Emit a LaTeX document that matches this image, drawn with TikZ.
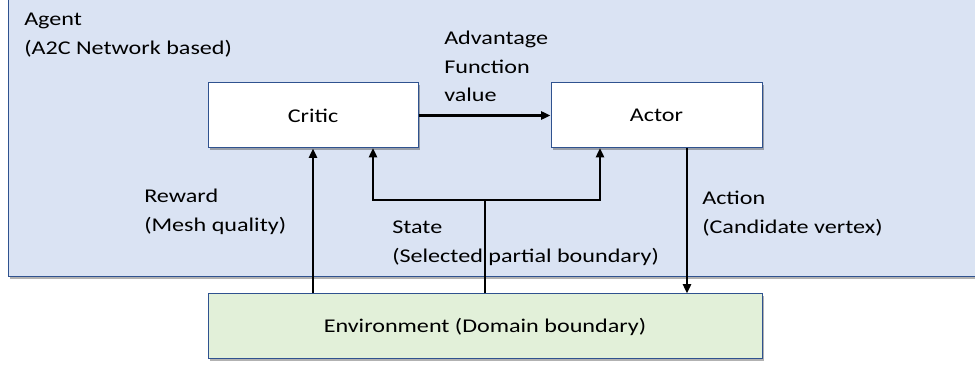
\documentclass[tikz,border=0pt]{standalone}
\usepackage{fontspec}
\setmainfont{Carlito}[FakeStretch=1.24]
\usetikzlibrary{arrows.meta,shadows}
\definecolor{agentfill}{HTML}{DAE3F3}
\definecolor{envfill}{HTML}{E2F0D9}
\definecolor{edgeblue}{HTML}{2F528F}
\begin{document}
\begin{tikzpicture}[x=0.75pt,y=-0.75pt,
  box/.style={draw=edgeblue, line width=0.75pt, rectangle, inner sep=0pt,
    drop shadow={shadow xshift=1.5pt, shadow yshift=-1.5pt, opacity=0.3, fill=black}},
  txt/.style={font=\fontsize{14.6}{21.4}\selectfont},
  lbl/.style={txt, anchor=base west, inner sep=0pt},
  arr/.style={line width=1.8pt, -{Triangle[length=7pt,width=6pt]}},
  link/.style={line width=1.8pt}
]
\useasboundingbox (0,0) rectangle (975,366);
% agent container
\node[box, fill=agentfill, minimum width=732.75pt, minimum height=211.5pt] (agent) at (496.5,136) {};
% boxes
\node[box, fill=white, txt, minimum width=157.5pt, minimum height=48.75pt] (critic) at (313,115.5) {Critic};
\node[box, fill=white, txt, minimum width=158.25pt, minimum height=48.75pt] (actor) at (656.5,115.5) {Actor};
\node[box, fill=envfill, txt, minimum width=415.5pt, minimum height=48.75pt] (env) at (485,326.5) {Environment (Domain boundary)};
% labels (one node per printed line)
\node[lbl] (agentlbla) at (24,25.7) {Agent};
\node[lbl] (agentlblb) at (24,54.3) {(A2C Network based)};
\node[lbl] (advlbla) at (444,45) {Advantage};
\node[lbl] (advlblb) at (444,73.5) {Function};
\node[lbl] (advlblc) at (444,102) {value};
\node[lbl] (rewlbla) at (144,202.7) {Reward};
\node[lbl] (rewlblb) at (144,231.5) {(Mesh quality)};
\node[lbl] (statelbla) at (392,233.3) {State};
\node[lbl] (statelblb) at (392,262.3) {(Selected partial boundary)};
\node[lbl] (actlbla) at (702,205) {Action};
\node[lbl] (actlblb) at (702,234) {(Candidate vertex)};
% connector points
\coordinate (sj) at (485,200);
\coordinate (cin) at (373,148);
\coordinate (ain) at (600,148);
\coordinate (aout) at (687,148);
% connectors
\draw[arr] (critic.east) -- (actor.west);
\draw[arr] (env.north -| critic.south) -- (critic.south);
\draw[link] (env.north) -- (sj);
\draw[arr] (sj) -| (cin);
\draw[arr] (sj) -| (ain);
\draw[arr] (aout) -- (aout |- env.north);
\end{tikzpicture}
\end{document}
